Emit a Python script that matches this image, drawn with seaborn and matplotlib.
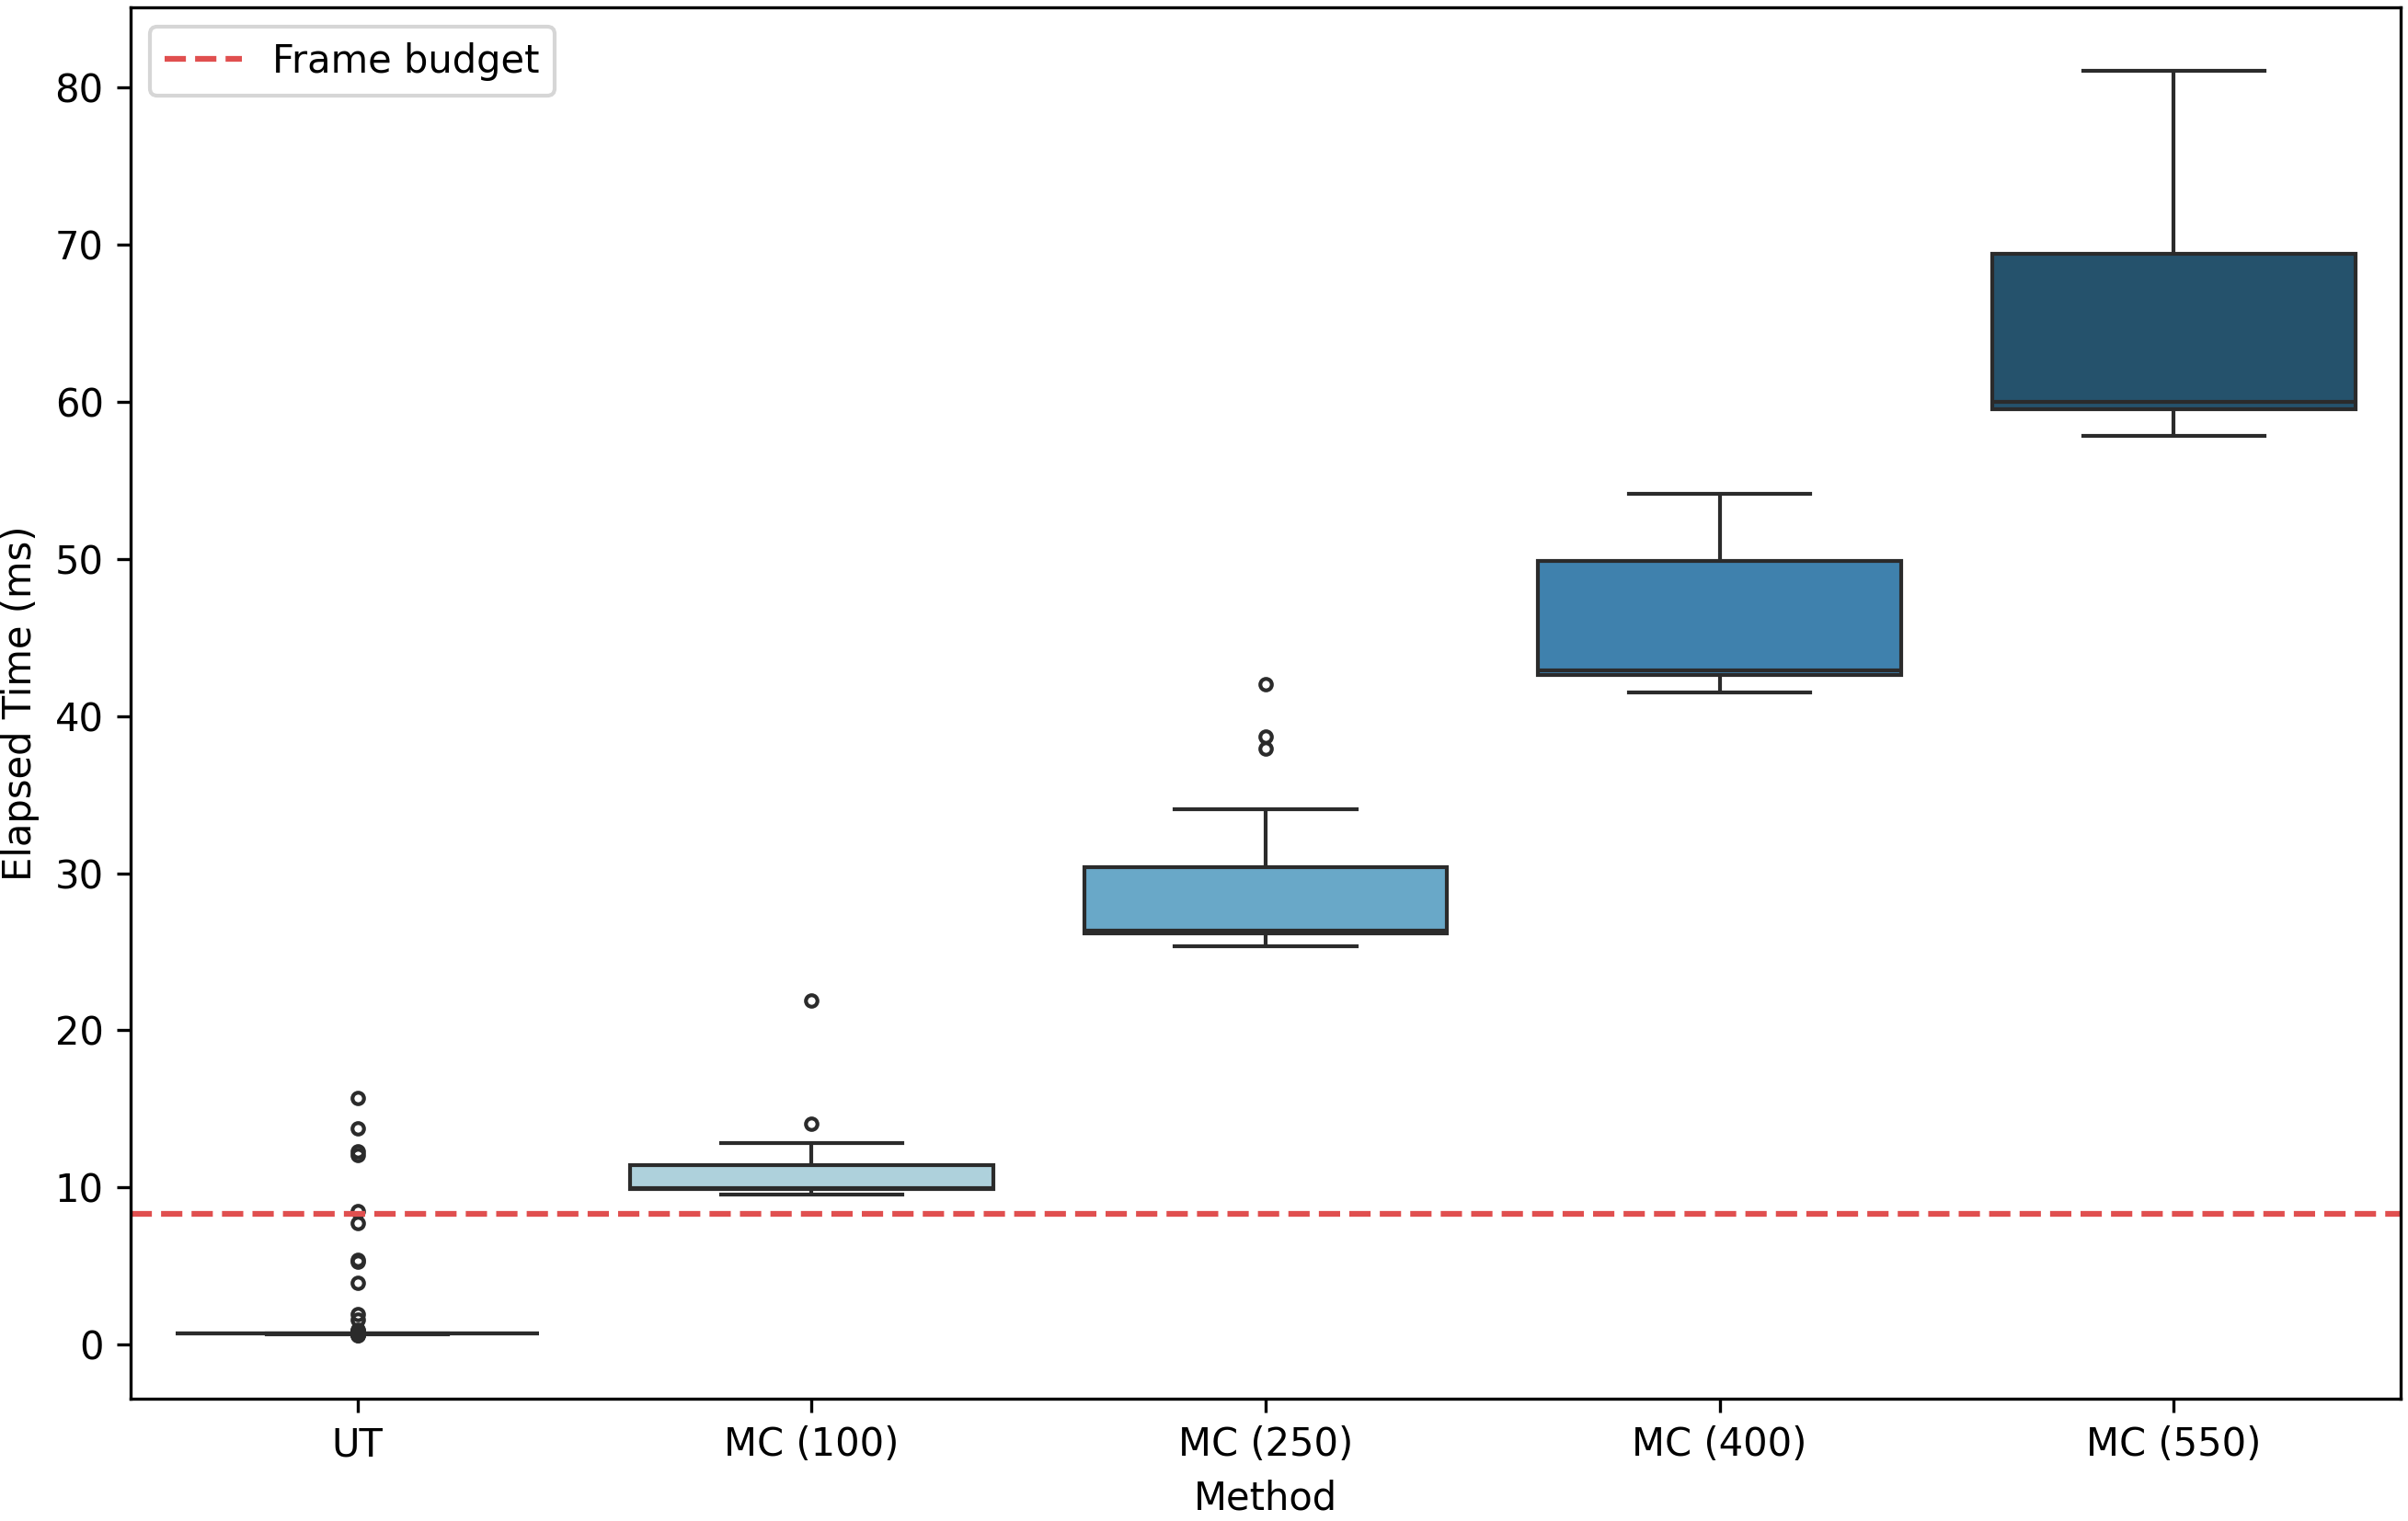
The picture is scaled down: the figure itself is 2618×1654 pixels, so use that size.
import pandas as pd
import matplotlib
matplotlib.use("Agg")
import matplotlib.pyplot as plt
import seaborn as sns

# elapsed times (ms) per method
methods = ['UT', 'MC (100)', 'MC (250)', 'MC (400)', 'MC (550)']

ut_times = [0.58, 0.61, 0.63, 0.65, 0.66, 0.67, 0.67, 0.68, 0.68, 0.68, 0.685, 0.685,
            0.685, 0.685, 0.69, 0.69, 0.69, 0.69,
            0.69,
            0.69, 0.69, 0.69, 0.692, 0.692, 0.694, 0.694, 0.695, 0.695, 0.696, 0.696, 0.697,
            0.698, 0.698, 0.699, 0.699, 0.70,
            0.70,
            0.70, 0.70, 0.701, 0.702, 0.702, 0.703, 0.704, 0.704, 0.705, 0.705, 0.706, 0.707,
            0.708, 0.708, 0.709, 0.71, 0.71,
            0.71,
            0.72, 0.75, 0.78, 0.81, 0.85, 0.90, 0.97, 1.58, 1.97, 3.92, 5.25, 5.40, 7.72,
            8.50, 12.05, 12.30, 13.76, 15.70]
mc100_times = [9.53, 9.62, 9.78, 9.88, 9.90, 9.93, 9.95, 10.4, 10.9, 11.42, 12.80, 14.05, 21.88]
mc250_times = [25.35, 25.6, 25.8, 26.0, 26.15, 26.2, 26.25, 26.3, 26.35, 27.2, 28.5, 29.6,
               30.37, 34.05, 37.91, 38.69, 42.0]
mc400_times = [41.48, 42.3, 42.59, 42.75, 42.9, 46.0, 49.85, 52.0, 54.12]
mc550_times = [57.84, 58.9, 59.5, 59.8, 59.97, 64.5, 69.43, 75.0, 81.06]

frame_budget = 1000 / 120  # ms

box_colors = ['#d4eaf0', '#aed1dc', '#69a8c8', '#3f81ad', '#25526c']

# long format table for seaborn
rows = []
for name, vals in zip(methods, [ut_times, mc100_times, mc250_times, mc400_times, mc550_times]):
    for v in vals:
        rows.append({'Method': name, 'Elapsed Time (ms)': v})
df = pd.DataFrame(rows)

fig, ax = plt.subplots(figsize=(2618 / 300, 1654 / 300), dpi=300)

sns.boxplot(data=df, x='Method', y='Elapsed Time (ms)', hue='Method', order=methods,
            hue_order=methods, palette=box_colors, saturation=1, legend=False,
            fliersize=3, ax=ax)

ax.axhline(frame_budget, color='#e04f4f', linestyle='--', linewidth=1.5, label='Frame budget')
ax.legend(loc='upper left')

ax.set_xlabel('Method')
ax.set_ylabel('Elapsed Time (ms)')

plt.subplots_adjust(left=0.0542, right=0.997, top=0.995, bottom=0.0804)
plt.savefig('out.png', dpi=300)
